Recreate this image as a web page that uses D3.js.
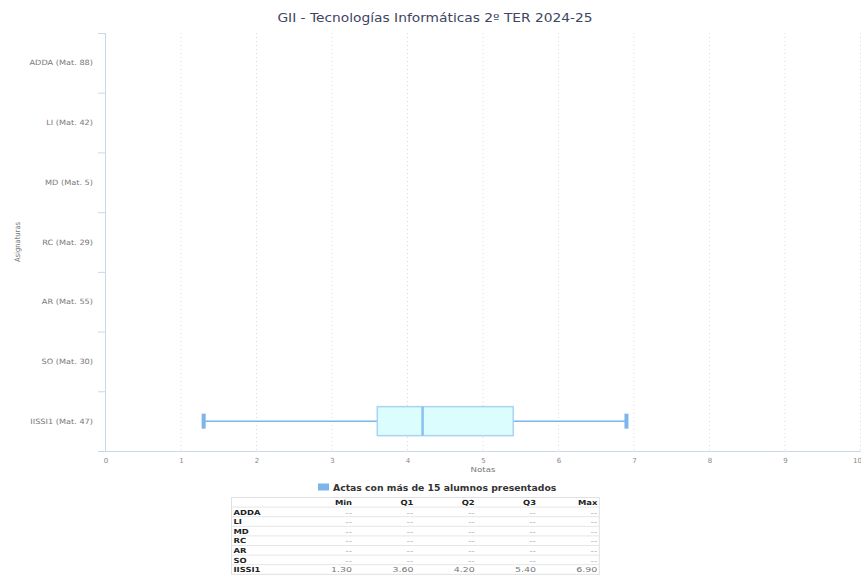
<!DOCTYPE html>
<html><head><meta charset="utf-8">
<script src="https://cdn.jsdelivr.net/npm/d3@7"></script>
<style>
html,body{margin:0;padding:0;background:#fff;}
svg{display:block;font-family:"DejaVu Sans",sans-serif;}
</style></head>
<body>
<svg id="chart" width="861" height="578"></svg>
<script>
const titleText = "GII - Tecnologías Informáticas 2º TER 2024-25";
const categories = ["ADDA","LI","MD","RC","AR","SO","IISSI1"];
const matriculados = [88,42,5,29,55,30,47];
const minVals = [null,null,null,null,null,null,1.30];
const q1Vals  = [null,null,null,null,null,null,3.60];
const q2Vals  = [null,null,null,null,null,null,4.20];
const q3Vals  = [null,null,null,null,null,null,5.40];
const maxVals = [null,null,null,null,null,null,6.90];
const xTicks = [0,1,2,3,4,5,6,7,8,9,10];
const tableHeaders = ["","Min","Q1","Q2","Q3","Max"];
const legendLabel = "Actas con más de 15 alumnos presentados";

(function(){
const svg = d3.select("#chart");
const pLeft = 105.5, pRight = 860.5, pTop = 33, pBottom = 451;
const x = d3.scaleLinear().domain([0,10]).range([pLeft,pRight]);
const y = d3.scaleBand().domain(categories).range([pTop,pBottom]);

function stext(parent, tx, ty, sx, anchor, size, txt){
  return parent.append("text")
    .attr("transform",`translate(${tx},${ty}) scale(${sx},1)`)
    .attr("text-anchor",anchor).attr("font-size",size).text(txt);
}

// title
stext(svg, 435, 22, 1.2, "middle", 11.5, titleText).attr("fill","#3d4563");

// grid
svg.append("g").selectAll("line").data(xTicks.slice(1)).join("line")
  .attr("x1",d=>x(d)).attr("x2",d=>x(d)).attr("y1",pTop).attr("y2",pBottom)
  .attr("stroke","#d8d8d8").attr("stroke-dasharray","1,3").attr("stroke-width",1);

// x axis
const xa = svg.append("g").attr("transform",`translate(0,${pBottom})`)
  .call(d3.axisBottom(x).tickValues(xTicks).tickSize(0).tickPadding(7));
xa.select(".domain").remove();
xa.selectAll(".tick text").attr("font-size",7).attr("fill","#888").attr("font-family","DejaVu Sans")
  .attr("dx", d => d===10 ? -3.5 : 0);
svg.append("line").attr("x1",98).attr("x2",861).attr("y1",pBottom+0.5).attr("y2",pBottom+0.5)
  .attr("stroke","#ccd6eb").attr("stroke-width",1);
stext(svg, x(5), 472, 1.15, "middle", 7.5, "Notas").attr("fill","#777");

// y axis
svg.append("line").attr("x1",pLeft).attr("x2",pLeft).attr("y1",pTop).attr("y2",pBottom)
  .attr("stroke","#ccd6eb").attr("stroke-width",1);
const bounds = categories.map(c=>y(c));
svg.append("g").selectAll("line").data(bounds).join("line")
  .attr("x1",98).attr("x2",pLeft).attr("y1",d=>d+0.5).attr("y2",d=>d+0.5)
  .attr("stroke","#ccd6eb").attr("stroke-width",1);
const yl = svg.append("g");
categories.forEach((c,i)=>{
  stext(yl, 93, y(c)+y.bandwidth()/2+2.5, 1.12, "end", 7.3, `${c} (Mat. ${matriculados[i]})`).attr("fill","#777");
});
svg.append("text").attr("transform",`translate(20,242) rotate(-90)`).attr("text-anchor","middle")
  .attr("font-size",7.5).attr("fill","#777").attr("font-family","Liberation Sans Narrow, DejaVu Sans Condensed, sans-serif")
  .text("Asignaturas");

// boxes
const boxColor = "#7cb5ec";
const data = categories.map((c,i)=>({c,min:minVals[i],q1:q1Vals[i],q2:q2Vals[i],q3:q3Vals[i],max:maxVals[i]}))
  .filter(d=>d.min!=null);
const g = svg.append("g");
data.forEach(d=>{
  const cy = y(d.c)+y.bandwidth()/2;
  const h = 29;
  g.append("line").attr("x1",x(d.min)).attr("x2",x(d.q1)).attr("y1",cy).attr("y2",cy).attr("stroke",boxColor).attr("stroke-width",1.5);
  g.append("line").attr("x1",x(d.q3)).attr("x2",x(d.max)).attr("y1",cy).attr("y2",cy).attr("stroke",boxColor).attr("stroke-width",1.5);
  g.append("rect").attr("x",x(d.q1)).attr("y",cy-h/2).attr("width",x(d.q3)-x(d.q1)).attr("height",h)
    .attr("fill","#dcfdfe").attr("stroke","#a9d3f5").attr("stroke-width",1.5);
  g.append("line").attr("x1",x(d.q2)).attr("x2",x(d.q2)).attr("y1",cy-h/2).attr("y2",cy+h/2).attr("stroke","#8cc0ee").attr("stroke-width",2.5);
  [d.min,d.max].forEach(v=>{
    g.append("line").attr("x1",x(v)).attr("x2",x(v)).attr("y1",cy-7.5).attr("y2",cy+7.5).attr("stroke",boxColor).attr("stroke-width",4);
  });
});

// legend
svg.append("rect").attr("x",318).attr("y",483.5).attr("width",11).attr("height",7).attr("fill",boxColor);
stext(svg, 333, 490.5, 1.16, "start", 8, legendLabel).attr("font-weight","bold").attr("fill","#333");

// table
const tLeft = 231.5, tTop = 497.5, colW = 61.3, rowH = 9.6;
const tbl = svg.append("g");
const rows = [tableHeaders].concat(categories.map((c,i)=>[c, minVals[i],q1Vals[i],q2Vals[i],q3Vals[i],maxVals[i]]));
tbl.append("rect").attr("x",tLeft).attr("y",tTop).attr("width",colW*6).attr("height",rowH*rows.length)
  .attr("fill","#fff").attr("stroke","#e0e0e0").attr("stroke-width",1);
rows.forEach((r,ri)=>{
  const ry = tTop + ri*rowH;
  if(ri>0) tbl.append("line").attr("x1",tLeft).attr("x2",tLeft+colW*6).attr("y1",ry).attr("y2",ry).attr("stroke","#e6e6e6").attr("stroke-width",1);
  r.forEach((v,ci)=>{
    const isHead = ri===0 || ci===0;
    const txt = ri===0 || ci===0 ? v : (v==null ? "--" : d3.format(".2f")(v));
    stext(tbl, ci===0 ? tLeft+2 : tLeft+colW*(ci+1)-2, ry+rowH-2.2, isHead ? 1.2 : 1.35,
          ci===0 ? "start":"end", 7, txt)
      .attr("font-weight", isHead ? "bold":"normal")
      .attr("fill", isHead ? "#222" : (v==null ? "#aaa" : "#777"));
  });
});
})();
</script>
</body></html>
